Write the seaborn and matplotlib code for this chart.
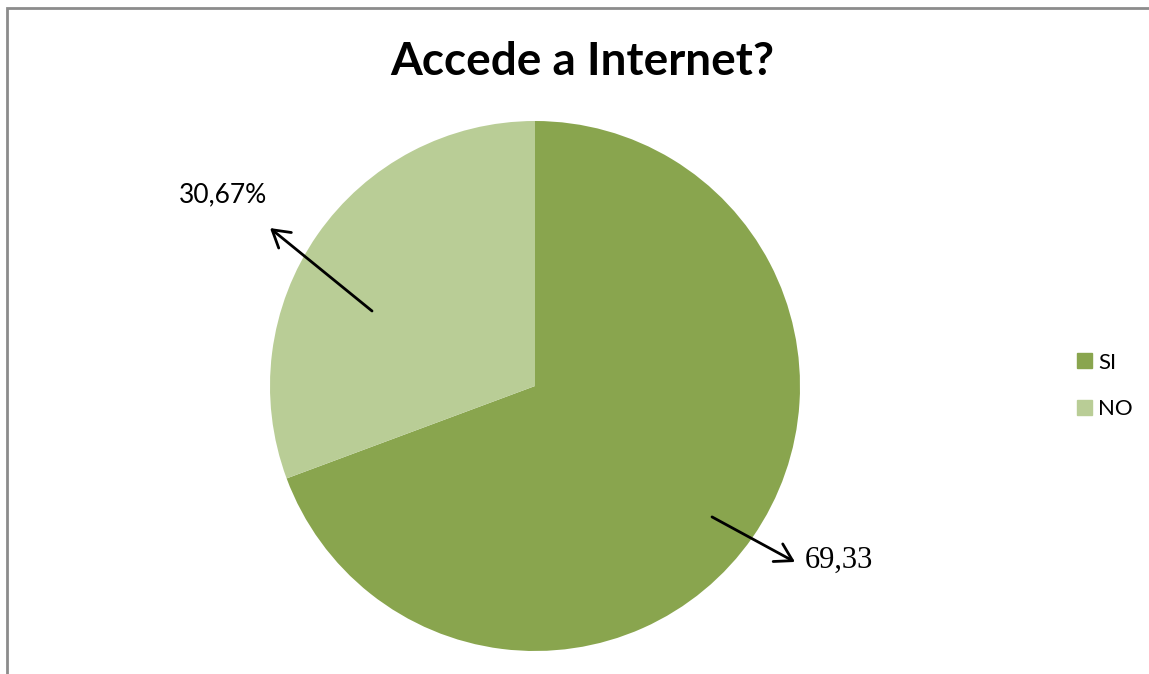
import matplotlib
matplotlib.use("Agg")
import matplotlib.pyplot as plt
import matplotlib.patches as mpatches
import seaborn as sns

# data
labels = ["SI", "NO"]
values = [69.33, 30.67]
label_texts = ["69,33", "30,67%"]
colors = ["#89A54E", "#B9CD96"]
title = "Accede a Internet?"

sns.set_theme(style="white")
plt.rcParams["font.family"] = ["Lato", "DejaVu Sans"]
plt.rcParams["text.color"] = "black"

W, H = 1149, 674
fig = plt.figure(figsize=(W / 100, H / 100), dpi=100)
ax = fig.add_axes([0, 0, 1, 1])

# pie placed in pixel-like data space
cx, cy, r = 535, H - 386, 265
wedges, _ = ax.pie(values, colors=colors, startangle=90, counterclock=False,
                   center=(cx, cy), radius=r,
                   wedgeprops=dict(linewidth=0))
ax.set_xlim(0, W)
ax.set_ylim(0, H)
ax.set_aspect("equal", adjustable="box")
ax.axis("off")


def rel(px, py):
    return cx + px * r, cy + py * r


arrow = dict(arrowstyle="->,head_length=1.0,head_width=0.6", mutation_scale=12,
             lw=2, color="black", shrinkA=0, shrinkB=0)

# SI label
ax.annotate("", xy=rel(0.981, -0.664), xytext=rel(0.668, -0.494),
            arrowprops=arrow, annotation_clip=False)
ax.text(*rel(1.019, -0.657), label_texts[0], fontsize=22,
        family="Liberation Serif", ha="left", va="center", color="black")

# NO label
ax.annotate("", xy=rel(-1.0, 0.596), xytext=rel(-0.615, 0.283),
            arrowprops=arrow, annotation_clip=False)
ax.text(*rel(-1.177, 0.721), label_texts[1], fontsize=19,
        ha="center", va="center", color="black")

fig.text(0.507, 1 - 62 / H, title, fontsize=33, fontweight="bold",
         ha="center", va="center", color="black")

handles = [mpatches.Patch(color=c, label=l) for c, l in zip(colors, labels)]
fig.legend(handles=handles, loc="center left", bbox_to_anchor=(1066 / W, 1 - 386 / H),
           frameon=False, fontsize=16, handlelength=0.65, handleheight=0.65,
           handletextpad=0.3, labelspacing=1.2, borderpad=0, labelcolor="black")

# outer chart frame
fig.add_artist(mpatches.Rectangle((7 / W, -0.1), 1.2, 1.1 - 8.5 / H,
                                  transform=fig.transFigure, fill=False,
                                  edgecolor="#8c8c8c", lw=2))

fig.savefig("out.png", dpi=100)
